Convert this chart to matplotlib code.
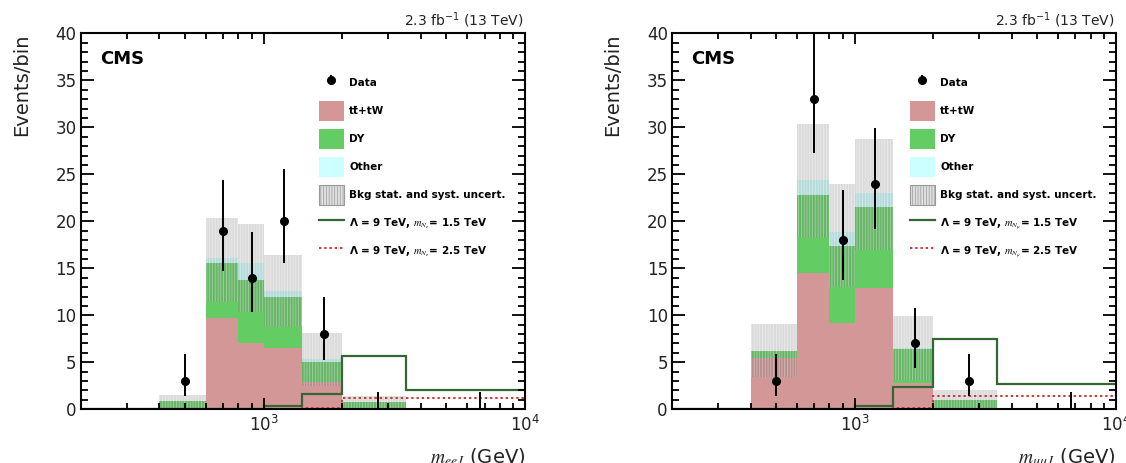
import matplotlib.pyplot as plt
import numpy as np
from matplotlib.lines import Line2D
from matplotlib.patches import Patch
from matplotlib.ticker import LogLocator, MultipleLocator, NullFormatter

edges = [200, 400, 600, 800, 1000, 1400, 2000, 3500, 10000]
data_x = [500, 700, 900, 1200, 1700, 2750, 6750]

# ee channel
ee_ttbar = [0, 0, 9.7, 7.1, 6.55, 2.87, 0, 0]
ee_dy = [0, 0.85, 5.9, 6.7, 5.45, 2.2, 0.8, 0]
ee_other = [0, 0, 0.5, 1.8, 0.6, 0.28, 0, 0]
ee_unc_up = [0, 0.65, 4.3, 4.1, 3.8, 2.8, 0.6, 0]
ee_unc_dn = [0, 0.85, 4.65, 5.3, 3.8, 2.85, 0.8, 0]
ee_sig_15 = [0, 0, 0, 0, 0.3, 1.6, 5.67, 2.06]
ee_sig_25 = [0, 0, 0, 0, 0.02, 0.1, 1.17, 1.17]
ee_data = [3, 19, 14, 20, 8, 0, 0]
ee_err_lo = [1.63, 4.32, 3.70, 4.44, 2.77, 0, 0]
ee_err_hi = [2.92, 5.44, 4.83, 5.55, 3.95, 1.84, 1.84]

# mumu channel
mm_ttbar = [0, 5.43, 14.47, 9.15, 12.87, 2.84, 0.1, 0]
mm_dy = [0, 0.81, 8.33, 8.25, 8.63, 3.58, 0.9, 0]
mm_other = [0, 0, 1.6, 1.5, 1.5, 0.08, 0, 0]
mm_unc_up = [0, 2.84, 5.95, 5.1, 5.8, 3.43, 1.0, 0]
mm_unc_dn = [0, 2.84, 6.2, 5.85, 6.0, 3.4, 1.0, 0]
mm_sig_15 = [0, 0, 0, 0, 0.35, 2.34, 7.45, 2.66]
mm_sig_25 = [0, 0, 0, 0, 0.02, 0.1, 1.45, 1.45]
mm_data = [3, 33, 18, 24, 7, 3, 0]
mm_err_lo = [1.63, 5.71, 4.20, 4.86, 2.58, 1.63, 0]
mm_err_hi = [2.92, 6.83, 5.30, 5.97, 3.77, 2.92, 1.84]

TT_COLOR = "#d39797"
DY_COLOR = "#63cc63"
OTHER_COLOR = "#ccffff"
BAND_COLOR = (0.45, 0.45, 0.45, 0.25)
SIG15_COLOR = "#336633"
SIG25_COLOR = "#cc3333"


def draw_panel(ax, ttbar, dy, other, unc_up, unc_dn, sig15, sig25,
               data, err_lo, err_hi, lep_sub, xlabel):
    ttbar = np.array(ttbar)
    top_dy = ttbar + np.array(dy)
    total = top_dy + np.array(other)
    up = total + np.array(unc_up)
    dn = total - np.array(unc_dn)

    # stacked backgrounds + uncertainty band
    ax.stairs(ttbar, edges, baseline=0, fill=True, color=TT_COLOR, lw=0)
    ax.stairs(top_dy, edges, baseline=ttbar, fill=True, color=DY_COLOR, lw=0)
    ax.stairs(total, edges, baseline=top_dy, fill=True, color=OTHER_COLOR, lw=0)
    ax.stairs(up, edges, baseline=dn, fill=True, color=BAND_COLOR, lw=0)
    ax.stairs(up, edges, baseline=dn, fill=True, facecolor="none",
              edgecolor=(1, 1, 1, 0.45), hatch="||||||", lw=0)

    # signals
    ax.stairs(sig15, edges, baseline=None, color=SIG15_COLOR, lw=1.6)
    ax.stairs(sig25, edges, baseline=None, color=SIG25_COLOR, lw=1.4,
              ls=(0, (1.2, 1.5)))

    # data
    data = np.array(data, dtype=float)
    x = np.array(data_x, dtype=float)
    lo = np.array(err_lo)
    hi = np.array(err_hi)
    nz = data > 0
    points = ax.errorbar(x[nz], data[nz], yerr=[lo[nz], hi[nz]], fmt="o",
                         color="black", ms=5.5, elinewidth=1.4, capsize=0)
    ax.vlines(x[~nz], 0, hi[~nz], color="black", lw=1.4)

    ax.set_xscale("log")
    ax.set_xlim(200, 10000)
    ax.set_ylim(0, 40)
    ax.yaxis.set_major_locator(MultipleLocator(5))
    ax.yaxis.set_minor_locator(MultipleLocator(1))
    ax.xaxis.set_minor_locator(LogLocator(subs=np.arange(2, 10)))
    ax.xaxis.set_minor_formatter(NullFormatter())
    ax.tick_params(which="both", direction="in", top=True, right=True, width=1.3)
    ax.tick_params(axis="y", which="major", length=9.5, labelsize=12, pad=3,
                   labelcolor="#222222")
    ax.tick_params(axis="y", which="minor", length=5)
    ax.tick_params(axis="x", which="major", length=8, labelsize=12, pad=4,
                   labelcolor="#222222")
    ax.tick_params(axis="x", which="minor", length=4.5)
    for spine in ax.spines.values():
        spine.set_linewidth(1.5)

    ax.set_ylabel("Events/bin", loc="top", fontsize=14, color="#222222")
    ax.yaxis.set_label_coords(-0.112, 1.0)
    ax.set_xlabel(xlabel, loc="right", fontsize=14, math_fontfamily="stix",
                  color="#222222")
    ax.xaxis.label.set_va("baseline")
    ax.xaxis.set_label_coords(1.0, -0.143)

    ax.text(0.043, 0.933, "CMS", transform=ax.transAxes, fontsize=13,
            fontweight="bold", va="center", ha="left")
    ax.text(0.997, 1.01, r"2.3 fb$^{-1}$ (13 TeV)", transform=ax.transAxes,
            fontsize=10, ha="right", va="bottom", color="#222222")

    handles = [
        points,
        Patch(facecolor=TT_COLOR, edgecolor="none"),
        Patch(facecolor=DY_COLOR, edgecolor="none"),
        Patch(facecolor=OTHER_COLOR, edgecolor="none"),
        Patch(facecolor="#dfdfdf", edgecolor="#999999", hatch="||||||", lw=0.8),
        Line2D([], [], color=SIG15_COLOR, lw=1.6),
        Line2D([], [], color=SIG25_COLOR, lw=1.4, ls=(0, (1.2, 1.5))),
    ]
    labels = [
        "Data",
        "tt\u0304+tW",
        "DY",
        "Other",
        "Bkg stat. and syst. uncert.",
        "\u039b = 9 TeV, $m_{N_{%s}}$= 1.5 TeV" % lep_sub,
        "\u039b = 9 TeV, $m_{N_{%s}}$= 2.5 TeV" % lep_sub,
    ]
    ax.legend(handles, labels, loc="upper left", bbox_to_anchor=(0.536, 0.894),
              frameon=False,
              prop={"weight": "bold", "size": 7.5, "math_fontfamily": "stix"},
              handlelength=2.4, handleheight=2.6, labelspacing=0.75,
              handletextpad=0.5, borderpad=0, borderaxespad=0)


def main():
    plt.rcParams["hatch.linewidth"] = 0.5
    fig = plt.figure(figsize=(11.26, 4.63), dpi=100)
    ax_ee = fig.add_axes([0.0717, 0.116, 0.3946, 0.812])
    ax_mm = fig.add_axes([0.5968, 0.116, 0.3943, 0.812])

    draw_panel(ax_ee, ee_ttbar, ee_dy, ee_other, ee_unc_up, ee_unc_dn,
               ee_sig_15, ee_sig_25, ee_data, ee_err_lo, ee_err_hi,
               "e", r"$m_{eeJ}$ (GeV)")
    draw_panel(ax_mm, mm_ttbar, mm_dy, mm_other, mm_unc_up, mm_unc_dn,
               mm_sig_15, mm_sig_25, mm_data, mm_err_lo, mm_err_hi,
               r"\mu", r"$m_{\mu\mu J}$ (GeV)")

    fig.savefig("out.png", dpi=100)


if __name__ == "__main__":
    main()
